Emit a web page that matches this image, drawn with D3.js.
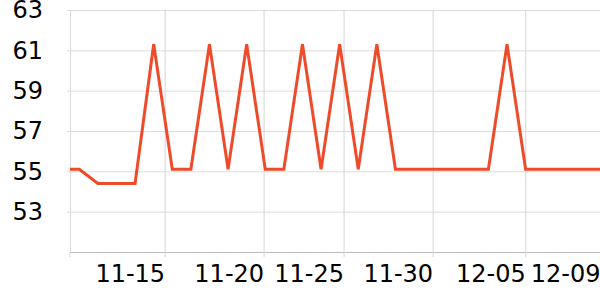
<!DOCTYPE html>
<html>
<head>
<meta charset="utf-8">
<script src="https://cdn.jsdelivr.net/npm/d3@7"></script>
<style>
  body { margin: 0; background: #fff; }
  svg { display: block; font-family: "DejaVu Sans", sans-serif; }
</style>
</head>
<body>
<script>
// one value per day slot; slot -1 sits just left of the axis and gets clipped
const slots = d3.range(-1, 29);
const values = [
  55.1, 55.1, 54.4, 54.4, 54.4, 61.3, 55.1, 55.1, 61.3, 55.1,
  61.3, 55.1, 55.1, 61.3, 55.1, 61.3, 55.1, 61.3, 55.1, 55.1,
  55.1, 55.1, 55.1, 55.1, 61.3, 55.1, 55.1, 55.1, 55.1, 55.1
];

// date ticks, placed in slot units
const tickSlots = [4.59, 9.91, 14.21, 19.0, 23.98, 28];
const tickLabels = ["11-15", "11-20", "11-25", "11-30", "12-05", "12-09"];
const yTicks = [53, 55, 57, 59, 61, 63];

const W = 600, H = 300;
const margin = {top: 10, right: 0, bottom: 48, left: 70};

const svg = d3.select("body").append("svg")
    .attr("width", W)
    .attr("height", H);

const x = d3.scaleLinear()
    .domain([-0.5, 28])
    .range([margin.left, W - margin.right]);

const y = d3.scaleLinear()
    .domain([51, 63])
    .range([H - margin.bottom, margin.top]);

svg.append("defs").append("clipPath").attr("id", "plot")
  .append("rect")
    .attr("x", margin.left)
    .attr("y", 0)
    .attr("width", W - margin.left)
    .attr("height", H - margin.bottom);

// horizontal grid + y labels
const yAxis = svg.append("g")
    .attr("transform", `translate(${margin.left},0)`)
    .call(d3.axisLeft(y)
      .tickValues(yTicks)
      .tickSize(-(W - margin.left))
      .tickSizeOuter(0)
      .tickPadding(27));
yAxis.select(".domain").attr("stroke", "#d9d9d9");
yAxis.selectAll(".tick line")
    .attr("stroke", "#dcdcdc")
    .attr("x1", -3);
yAxis.selectAll(".tick text")
    .attr("font-size", 24)
    .attr("fill", "#000")
    .attr("font-family", "DejaVu Sans");

// vertical grid + x labels
const xAxis = svg.append("g")
    .attr("transform", `translate(0,${H - margin.bottom})`)
    .call(d3.axisBottom(x)
      .tickValues(tickSlots)
      .tickFormat((d, i) => tickLabels[i])
      .tickSize(5)
      .tickSizeOuter(0));
xAxis.select(".domain").attr("stroke", "#bdbdbd");
xAxis.selectAll(".tick line")
    .attr("stroke", "#d6d6d6")
    .attr("y2", 5)
    .attr("y1", -(H - margin.bottom - margin.top));
xAxis.selectAll(".tick text")
    .attr("font-size", 24)
    .attr("fill", "#000")
    .attr("font-family", "DejaVu Sans")
    .attr("text-anchor", "end")
    .attr("dy", null)
    .attr("y", 30);

// left axis tick at origin
svg.append("line")
    .attr("x1", margin.left).attr("x2", margin.left)
    .attr("y1", H - margin.bottom).attr("y2", H - margin.bottom + 5)
    .attr("stroke", "#d6d6d6");

const line = d3.line()
    .x((d, i) => x(slots[i]))
    .y(d => y(d));

svg.append("path")
    .datum(values)
    .attr("clip-path", "url(#plot)")
    .attr("fill", "none")
    .attr("stroke", "#ee4b2b")
    .attr("stroke-width", 3)
    .attr("stroke-linejoin", "miter")
    .attr("d", line);
</script>
</body>
</html>
